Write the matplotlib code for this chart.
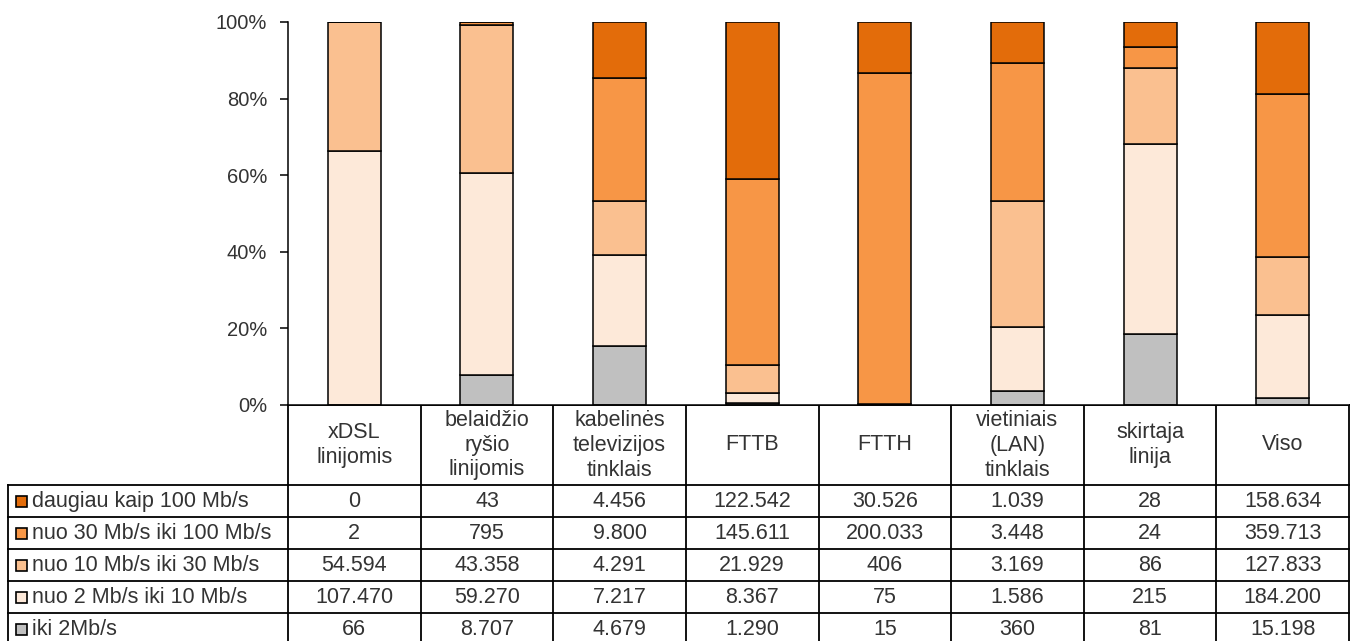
import matplotlib
matplotlib.use("Agg")
import matplotlib.pyplot as plt
from matplotlib.patches import Rectangle
from matplotlib.ticker import FuncFormatter

plt.rcParams['font.family'] = ['Liberation Sans', 'DejaVu Sans']

categories = ["xDSL\nlinijomis", "belaidžio\nryšio\nlinijomis",
              "kabelinės\ntelevizijos\ntinklais", "FTTB", "FTTH",
              "vietiniais\n(LAN)\ntinklais", "skirtaja\nlinija", "Viso"]

# table rows, top to bottom
series_names = ["daugiau kaip 100 Mb/s", "nuo 30 Mb/s iki 100 Mb/s",
                "nuo 10 Mb/s iki 30 Mb/s", "nuo 2 Mb/s iki 10 Mb/s", "iki 2Mb/s"]
over_100 = [0, 43, 4456, 122542, 30526, 1039, 28, 158634]
from_30_to_100 = [2, 795, 9800, 145611, 200033, 3448, 24, 359713]
from_10_to_30 = [54594, 43358, 4291, 21929, 406, 3169, 86, 127833]
from_2_to_10 = [107470, 59270, 7217, 8367, 75, 1586, 215, 184200]
up_to_2 = [66, 8707, 4679, 1290, 15, 360, 81, 15198]
series_values = [over_100, from_30_to_100, from_10_to_30, from_2_to_10, up_to_2]
colors = ["#E36C0A", "#F79646", "#FAC090", "#FDE9D9", "#C0C0C0"]

W, H = 1354, 641
fig = plt.figure(figsize=(W / 100, H / 100), dpi=100)

# pixel layout
left, right, top, base = 288, 1349, 22, 405
row_lines = [405, 485, 517, 549, 581, 613, 645]
label_left = 8

ax = fig.add_axes([left / W, (H - base) / H, (right - left) / W, (base - top) / H])
n = len(categories)
totals = [sum(s[i] for s in series_values) for i in range(n)]
bottoms = [0.0] * n
for name, vals, col in reversed(list(zip(series_names, series_values, colors))):
    pct = [v / t for v, t in zip(vals, totals)]
    ax.bar(range(n), pct, width=0.4, bottom=bottoms, color=col,
           edgecolor="black", linewidth=1.1, zorder=3)
    bottoms = [b + p for b, p in zip(bottoms, pct)]

ax.set_xlim(-0.5, n - 0.5)
ax.set_ylim(0, 1)
ax.set_yticks([0, 0.2, 0.4, 0.6, 0.8, 1.0])
ax.yaxis.set_major_formatter(FuncFormatter(lambda v, p: f"{v:.0%}"))
ax.tick_params(axis="y", direction="out", length=6, width=1.1, labelsize=14.5,
               pad=9, colors="black")
ax.tick_params(axis="x", bottom=False, labelbottom=False)
for s in ["top", "right"]:
    ax.spines[s].set_visible(False)
ax.spines["left"].set_linewidth(1.1)
ax.spines["bottom"].set_linewidth(1.1)
ax.spines["bottom"].set_zorder(5)
for lab in ax.get_yticklabels():
    lab.set_color("#333333")

# data table drawn in figure pixel space
tab = fig.add_axes([0, 0, 1, 1], zorder=-1)
tab.set_xlim(0, W)
tab.set_ylim(H, 0)
tab.axis("off")
colw = (right - left) / n
lw = 1.3
txt_color = "#333333"
fs = 15.5

# header row
tab.plot([left, right], [base, base], color="black", lw=lw)
for i in range(n + 1):
    x = left + i * colw
    tab.plot([x, x], [row_lines[0], row_lines[-1]], color="black", lw=lw)
for i, c in enumerate(categories):
    tab.text(left + (i + 0.5) * colw, (row_lines[0] + row_lines[1]) / 2, c,
             ha="center", va="center", fontsize=fs, color=txt_color,
             linespacing=1.25)
# data rows
for r in range(1, len(row_lines)):
    tab.plot([label_left, right], [row_lines[r], row_lines[r]], color="black", lw=lw)
tab.plot([label_left, label_left], [row_lines[1], row_lines[-1]], color="black", lw=lw)

for r, (name, vals, col) in enumerate(zip(series_names, series_values, colors)):
    y0, y1 = row_lines[r + 1], row_lines[r + 2]
    yc = (y0 + y1) / 2
    tab.add_patch(Rectangle((16, yc - 5.5), 11, 11, facecolor=col,
                            edgecolor="black", lw=1.2))
    tab.text(32, yc + 0.5, name, ha="left", va="center", fontsize=fs, color=txt_color)
    for i, v in enumerate(vals):
        tab.text(left + (i + 0.5) * colw, yc + 0.5, f"{v:,}".replace(",", "."),
                 ha="center", va="center", fontsize=fs, color=txt_color)

fig.savefig("out.png", dpi=100)
